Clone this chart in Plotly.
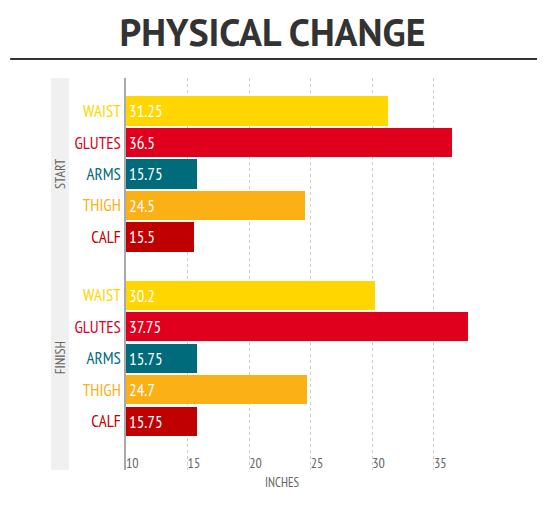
import plotly.graph_objects as go

# 신체 부위별 치수 (인치)
categories = ["WAIST", "GLUTES", "ARMS", "THIGH", "CALF"]
start_vals = [31.25, 36.5, 15.75, 24.5, 15.5]
finish_vals = [30.2, 37.75, 15.75, 24.7, 15.75]
groups = ["START", "FINISH"]
x_ticks = [10, 15, 20, 25, 30, 35]

colors = ["#FFD600", "#E0001E", "#006B7A", "#FBB016", "#C00000"]

AXIS_MIN = 10
GAP = 5.85  # FINISH 그룹 시작 위치
FONT = "PT Sans Narrow, Roboto Condensed, Open Sans Condensed, sans-serif"
TITLE_FONT = "PT Sans, PT Sans Narrow, sans-serif"

fig = go.Figure()

tick_pos = []
tick_text = []
for g, vals in enumerate([start_vals, finish_vals]):
    pos = [i + g * GAP for i in range(len(categories))]
    tick_pos += pos
    tick_text += [f"<span style='color:{c}'>{n}</span>" for n, c in zip(categories, colors)]
    fig.add_trace(go.Bar(
        y=pos, x=[v - AXIS_MIN for v in vals], base=AXIS_MIN,
        orientation="h", width=0.93,
        marker=dict(color=colors, line=dict(width=0)),
        text=[f"{v:g}" for v in vals],
        textposition="inside", insidetextanchor="start",
        textfont=dict(family=FONT, size=17, color="white"),
        showlegend=False, name=groups[g],
    ))
    # 그룹 라벨 (회색 띠 안)
    fig.add_annotation(x=-0.188, xref="paper", y=pos[2], yref="y",
                       xanchor="center", yanchor="middle",
                       text=groups[g], textangle=-90, showarrow=False,
                       font=dict(family=FONT, size=14, color="#666"))

# 회색 띠
fig.add_shape(type="rect", xref="paper", yref="paper",
              x0=-0.2137, x1=-0.1624, y0=0, y1=1,
              fillcolor="#F0F0F0", line=dict(width=0), layer="below")
# 제목 밑줄
fig.add_shape(type="line", xref="paper", yref="paper",
              x0=-0.330, x1=1.171, y0=1.0485, y1=1.0485,
              line=dict(color="#333", width=2))

fig.add_annotation(x=0.447, xref="paper", y=-0.031, yref="paper",
                   text="INCHES", showarrow=False, yanchor="middle",
                   font=dict(family=FONT, size=13, color="#666"))

fig.update_layout(
    width=539, height=510,
    margin=dict(l=118, r=70, t=70, b=48),
    paper_bgcolor="white", plot_bgcolor="white",
    title=dict(text="PHYSICAL CHANGE", x=(272.5 - 8) / 539, xanchor="center",
               y=1 - 25 / 510, yanchor="middle",
               font=dict(family=TITLE_FONT, size=38, color="#333", weight="bold")),
    bargap=0,
    xaxis=dict(range=[AXIS_MIN, 38.5], tickvals=x_ticks,
               ticklabelposition="inside right", ticklabelstandoff=-7,
               tickfont=dict(family=FONT, size=14, color="#666"),
               showgrid=True, gridcolor="#CCC", griddash="dot", gridwidth=1,
               zeroline=False, showline=False, ticks=""),
    yaxis=dict(range=[11.4, -1.05], tickvals=tick_pos, ticktext=tick_text,
               tickfont=dict(family=FONT, size=17),
               showgrid=False, zeroline=False, ticks="",
               showline=True, linecolor="#AAA", linewidth=1.5),
)

fig.write_html("out.html")
